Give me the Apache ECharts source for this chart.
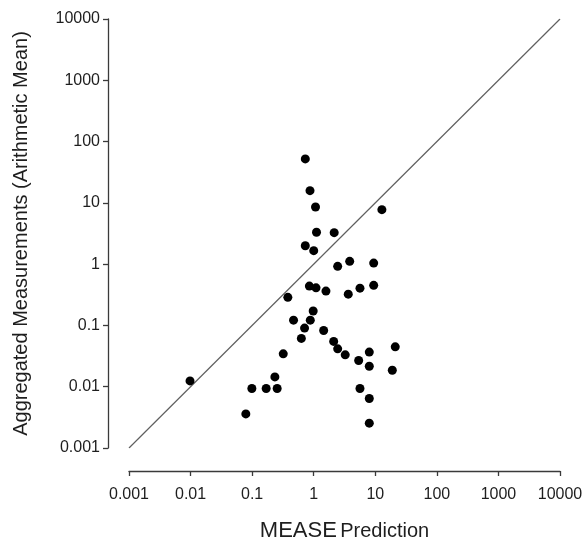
<!DOCTYPE html>
<html>
<head>
<meta charset="utf-8">
<script src="https://cdn.jsdelivr.net/npm/echarts@6/dist/echarts.min.js"></script>
<style>
html,body{margin:0;padding:0;background:#fff;}
#c{width:585px;height:544px;}
</style>
</head>
<body>
<div id="c"></div>
<script>
// Tick labels (decades 10^-3 .. 10^4)
const xTickLabels = ['0.001','0.01','0.1','1','10','100','1000','10000'];
const yTickLabels = ['0.001','0.01','0.1','1','10','100','1000','10000'];

// MEASE prediction (x) and aggregated measurement (y)
const predicted = [
  0.73, 0.87, 1.07, 12.8, 1.11, 2.15, 0.73, 1.0, 3.84, 2.45,
  9.42, 0.85, 1.09, 1.58, 5.64, 9.42, 3.64, 0.38, 0.98, 0.47,
  0.88, 0.71, 1.45, 0.63, 2.11, 2.45, 3.25, 0.32, 5.37, 7.99,
  7.99, 21.1, 18.9, 0.234, 0.0098, 0.099, 0.169, 0.255, 5.64, 7.99,
  0.079, 7.99
];
const measured = [
  52.1, 15.8, 8.57, 7.74, 3.31, 3.26, 2.0, 1.66, 1.11, 0.92,
  1.04, 0.438, 0.411, 0.363, 0.406, 0.451, 0.324, 0.287, 0.172, 0.122,
  0.122, 0.0904, 0.0828, 0.0614, 0.0549, 0.0415, 0.0331, 0.0344, 0.0268, 0.0367,
  0.0216, 0.0447, 0.0186, 0.01445, 0.01245, 0.00936, 0.00936, 0.00936, 0.00936, 0.00641,
  0.0036, 0.00254
];
// 1:1 reference line
const lineX = [0.001, 10000];
const lineY = [0.001, 10000];

const points = predicted.map((x, i) => [x, measured[i]]);
const linePts = lineX.map((x, i) => [x, lineY[i]]);

const fontFam = '"Liberation Sans", Arial, sans-serif';
const axisCol = '#3a3a3a';
const txtCol = '#1e1e1e';

function fmt(labels) {
  return function (v) {
    const k = Math.round(Math.log10(v)) + 3;
    return labels[k] !== undefined ? labels[k] : '';
  };
}

const chart = echarts.init(document.getElementById('c'), null, {renderer: 'canvas'});
chart.setOption({
  animation: false,
  backgroundColor: '#ffffff',
  grid: {left: 129, right: 25, top: 19, bottom: 96, containLabel: false, outerBoundsMode: 'none'},
  xAxis: {
    type: 'log', logBase: 10, min: 0.001, max: 10000, splitNumber: 7,
    offset: 23,
    axisLine: {show: true, lineStyle: {color: axisCol, width: 1.3}},
    axisTick: {show: true, inside: false, length: 5, lineStyle: {color: axisCol, width: 1.3}},
    minorTick: {show: false},
    splitLine: {show: false},
    axisLabel: {show: true, margin: 16, color: txtCol, fontSize: 16, fontFamily: fontFam,
      showMinLabel: true, showMaxLabel: true, hideOverlap: false, formatter: fmt(xTickLabels)},
    name: '{a|MEASE} {b|Prediction}',
    nameLocation: 'middle', nameGap: 49,
    nameTextStyle: {
      rich: {
        a: {fontSize: 22, fontFamily: fontFam, color: txtCol},
        b: {fontSize: 20, fontFamily: fontFam, color: txtCol}
      }
    }
  },
  yAxis: {
    type: 'log', logBase: 10, min: 0.001, max: 10000, splitNumber: 7,
    offset: 21,
    axisLine: {show: true, lineStyle: {color: axisCol, width: 1.3}},
    axisTick: {show: true, inside: false, length: 5, lineStyle: {color: axisCol, width: 1.3}},
    minorTick: {show: false},
    splitLine: {show: false},
    axisLabel: {show: true, margin: 8, color: txtCol, fontSize: 16, fontFamily: fontFam,
      showMinLabel: true, showMaxLabel: true, hideOverlap: false, formatter: fmt(yTickLabels)},
    name: 'Aggregated Measurements (Arithmetic Mean)',
    nameLocation: 'middle', nameGap: 77, nameRotate: 90,
    nameTextStyle: {fontSize: 20, fontFamily: fontFam, color: txtCol}
  },
  series: [
    {
      type: 'line', data: linePts, symbol: 'none', silent: true,
      lineStyle: {color: '#606060', width: 1.2}, z: 1
    },
    {
      type: 'scatter', data: points, symbol: 'circle', symbolSize: 9,
      itemStyle: {color: '#000000', opacity: 1}, z: 2
    }
  ]
});
</script>
</body>
</html>
